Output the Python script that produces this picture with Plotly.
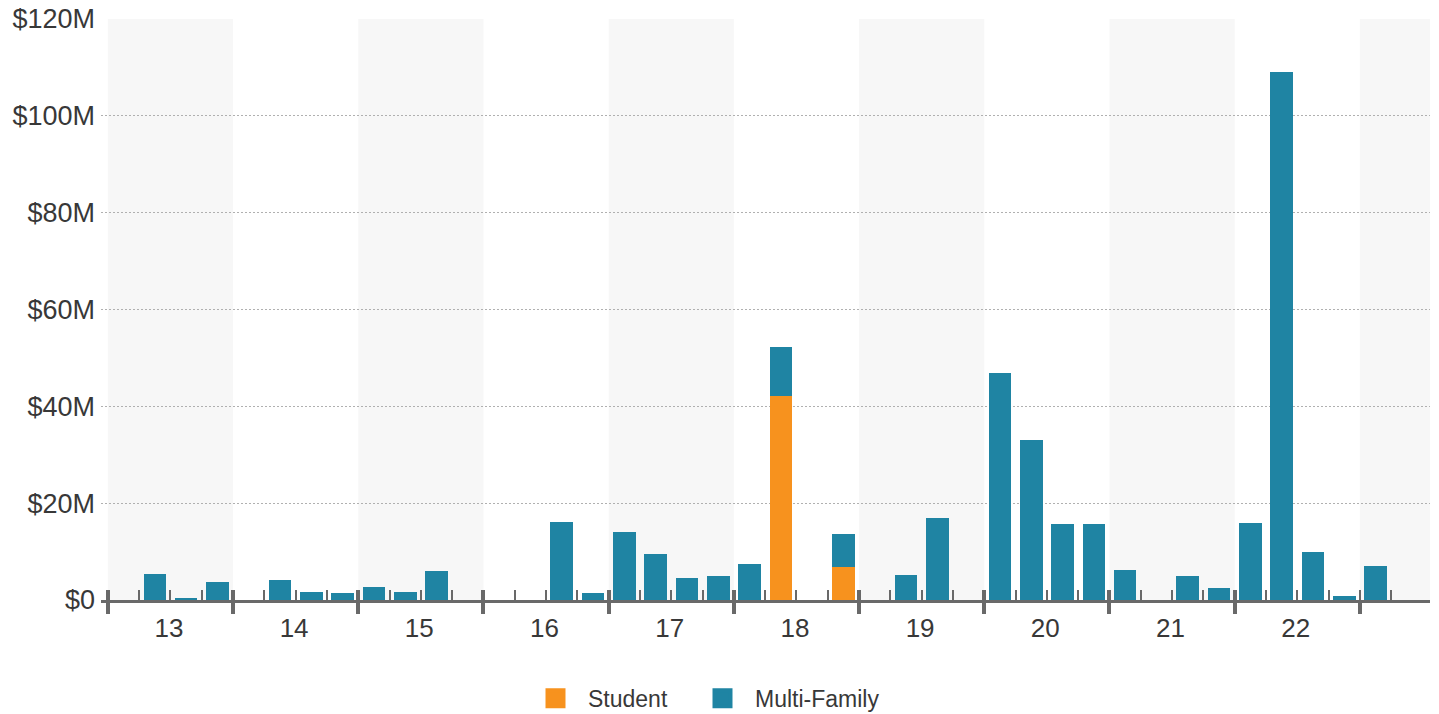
import plotly.graph_objects as go

# Quarterly transaction volume, $ millions, 2013 Q1 .. 2023 Q1
year_labels = ["13", "14", "15", "16", "17", "18", "19", "20", "21", "22", "23"]
quarter_names = ["Q1", "Q2", "Q3", "Q4"]

student = [
    0, 0, 0, 0,            # 2013
    0, 0, 0, 0,            # 2014
    0, 0, 0, 0,            # 2015
    0, 0, 0, 0,            # 2016
    0, 0, 0, 0,            # 2017
    0, 42.2, 0, 6.9,       # 2018
    0, 0, 0, 0,            # 2019
    0, 0, 0, 0,            # 2020
    0, 0, 0, 0,            # 2021
    0, 0, 0, 0,            # 2022
    0,                     # 2023
]
multi_family = [
    0, 5.4, 0.4, 3.8,      # 2013
    0, 4.2, 1.7, 1.4,      # 2014
    2.6, 1.7, 5.9, 0,      # 2015
    0, 0, 16.2, 1.4,       # 2016
    14.1, 9.5, 4.5, 5.0,   # 2017
    7.4, 10.1, 0, 6.7,     # 2018
    0, 5.1, 17.0, 0,       # 2019
    46.9, 33.1, 15.8, 15.7,  # 2020
    6.1, 0, 5.0, 2.5,      # 2021
    16.0, 109.0, 10.0, 0.9,  # 2022
    7.1,                   # 2023
]
y_ticks = [0, 20, 40, 60, 80, 100, 120]
y_tick_text = ["$0", "$20M", "$40M", "$60M", "$80M", "$100M", "$120M"]

ORANGE = "#F7921E"
TEAL = "#1F84A3"
AXIS = "#696969"
TEXT = "#383838"

n = len(multi_family)
quarters = [f"20{year_labels[i // 4]} {quarter_names[i % 4]}" for i in range(n)]
xpos = list(range(n))  # one slot per quarter

x_range = [-0.72, 41.74]
plot_left, plot_right = 101, 1439 - 9
px_per_quarter = (plot_right - plot_left) / (x_range[1] - x_range[0])
year_starts = [4 * i - 0.5 for i in range(len(year_labels))]
quarter_bounds = [q - 0.5 for q in range(0, 42)]

fig = go.Figure()
fig.add_trace(go.Bar(x=xpos, y=student, name="Student", marker=dict(color=ORANGE, line=dict(width=0)),
                     width=0.72, customdata=quarters, showlegend=False,
                     hovertemplate="%{customdata}<br>Student: $%{y}M<extra></extra>"))
fig.add_trace(go.Bar(x=xpos, y=multi_family, name="Multi-Family", marker=dict(color=TEAL, line=dict(width=0)),
                     width=0.72, customdata=quarters, showlegend=False,
                     hovertemplate="%{customdata}<br>Multi-Family: $%{y}M<extra></extra>"))

# square legend keys, one legend box each (placed on the overlay axis so it gets drawn)
for name, color, legend_id in [("Student", ORANGE, "legend"), ("Multi-Family", TEAL, "legend2")]:
    fig.add_trace(go.Scatter(x=[None], y=[None], mode="markers", name=name, xaxis="x2",
                             legend=legend_id,
                             marker=dict(symbol="square", size=16, color=color,
                                         line=dict(width=4, color=color))))

# alternating year bands
shapes = []
for i, start in enumerate(year_starts):
    if i % 2 == 0:
        shapes.append(dict(type="rect", xref="x", yref="paper", x0=start, x1=start + 4,
                           y0=0, y1=1, fillcolor="#F7F7F7", line=dict(width=0), layer="below"))

common = dict(range=x_range, showgrid=False, zeroline=False, fixedrange=True, automargin=False)
legend_style = dict(orientation="h", xref="container", xanchor="left",
                    yref="container", y=0.022, yanchor="middle",
                    font=dict(size=23, color=TEXT), itemwidth=55)

fig.update_layout(
    width=1439, height=714,
    margin=dict(l=plot_left, r=9, t=19, b=114, autoexpand=False),
    paper_bgcolor="white", plot_bgcolor="white",
    barmode="stack", bargap=0,
    font=dict(family="Liberation Sans, Arial, sans-serif", color=TEXT),
    shapes=shapes,
    # year ticks above the line, quarter ticks as minor ticks; labels shifted to mid-year
    xaxis=dict(**common, tickmode="array", tickvals=year_starts,
               ticktext=year_labels[:-1] + [""],
               ticks="inside", ticklen=10, tickwidth=4, tickcolor=AXIS,
               minor=dict(tickmode="array", tickvals=quarter_bounds, ticks="inside",
                          ticklen=10, tickwidth=2, tickcolor=AXIS, showgrid=False),
               showline=True, linewidth=3, linecolor=AXIS,
               tickfont=dict(size=26, color=TEXT), ticklabelstandoff=3,
               ticklabelshift=int(round(2 * px_per_quarter)) - 2),
    # year ticks below the axis line
    xaxis2=dict(**common, overlaying="x", anchor="y", side="bottom", tickmode="array",
                tickvals=year_starts, ticks="outside", ticklen=13, tickwidth=4,
                tickcolor=AXIS, showticklabels=False, showline=False),
    yaxis=dict(range=[0, 120], tickmode="array", tickvals=y_ticks, ticktext=y_tick_text,
               showgrid=True, gridcolor="#B0B0B0", gridwidth=1, griddash="2px,2px",
               zeroline=False, showline=False, ticks="", fixedrange=True, automargin=False,
               tickfont=dict(size=27, color=TEXT), ticklabelstandoff=5),
    legend=dict(**legend_style, x=523 / 1439),
    legend2=dict(**legend_style, x=690 / 1439),
    showlegend=True,
)

fig.write_html("out.html")
